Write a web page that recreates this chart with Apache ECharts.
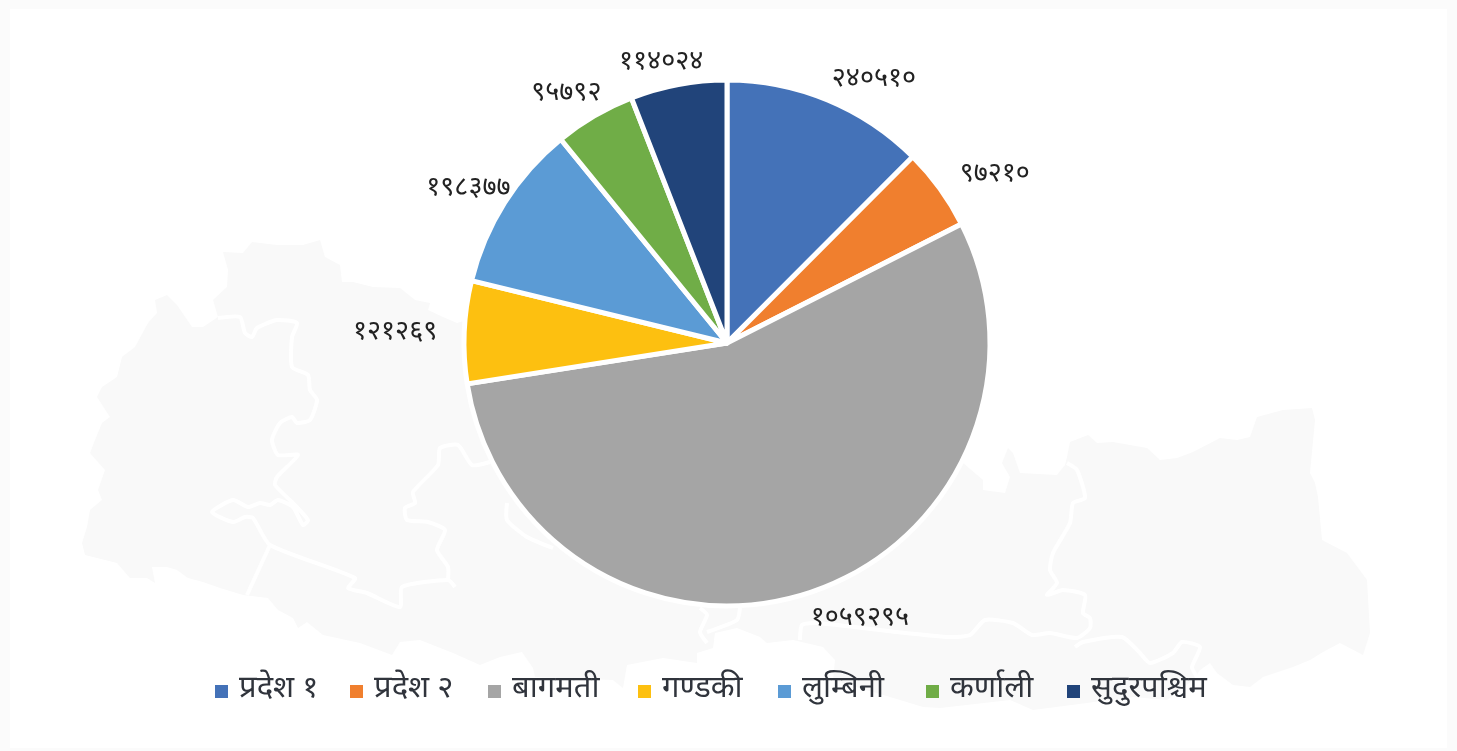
<!DOCTYPE html>
<html>
<head>
<meta charset="utf-8">
<title>प्रदेश</title>
<style>
  html, body { margin: 0; padding: 0; background: #fbfbfb; }
  #chart { width: 1457px; height: 751px; }
</style>
<script src="https://cdn.jsdelivr.net/npm/echarts@6/dist/echarts.min.js"></script>
</head>
<body>
<div id="chart"></div>
<script>
const provinces = ['प्रदेश १', 'प्रदेश २', 'बागमती', 'गण्डकी', 'लुम्बिनी', 'कर्णाली', 'सुदुरपश्चिम'];
const values = [240510, 97210, 1059295, 121269, 198377, 95792, 114024];
const colors = ['#4472b8', '#f07f2e', '#a5a5a5', '#fdc010', '#5b9bd5', '#70ad47', '#21447a'];
const nepaliDigits = ['०', '१', '२', '३', '४', '५', '६', '७', '८', '९'];

// nudges for the value labels, and where each legend entry starts
const labelNudge = [[-3, -13], [10, -9], [-4, 21], [-16, 2], [16, -9], [15, -16], [31, -15]];
const legendLeft = [215, 350, 488, 638, 778, 926, 1067];

// watermark map behind the pie, page pixels
const mapOutline = [
  [82,543],[87,527],[90,510],[102,500],[98,490],[105,470],[90,453],[95,440],[102,423],[110,417],[97,397],[102,387],
  [117,377],[122,357],[135,347],[148,323],[157,313],[155,300],[167,295],[177,305],[192,327],[203,327],[218,317],
  [213,300],[227,287],[228,270],[223,252],[243,253],[252,242],[277,245],[303,245],[320,240],[325,257],[340,265],
  [342,282],[353,282],[373,287],[400,288],[415,300],[430,303],[428,310],[443,317],[457,323],[467,320],
  [963,463],[983,480],[983,490],[1005,493],[1010,477],[1002,463],[1008,448],[1013,453],[1020,473],[1057,475],
  [1065,465],[1067,457],[1070,442],[1088,435],[1097,443],[1113,442],[1147,448],[1160,460],[1177,458],[1193,452],
  [1220,438],[1237,440],[1250,437],[1257,417],[1283,410],[1312,408],[1315,420],[1310,473],[1315,483],[1318,497],
  [1322,540],[1347,553],[1367,580],[1370,633],[1363,655],[1340,643],[1323,652],[1310,660],[1293,667],[1263,677],
  [1250,687],[1233,685],[1217,673],[1210,663],[1200,670],[1193,680],[1167,700],[1133,697],[1033,710],[1010,700],
  [940,708],[923,707],[900,700],[833,680],[835,660],[823,647],[793,640],[767,643],[760,637],[737,628],[715,633],
  [713,648],[697,653],[697,663],[663,658],[627,665],[623,688],[613,680],[535,677],[533,668],[522,652],[500,657],
  [480,665],[453,653],[420,640],[400,642],[392,655],[360,643],[323,635],[307,622],[298,628],[293,618],[278,610],
  [268,598],[243,595],[220,588],[203,582],[188,578],[177,570],[167,567],[152,567],[155,583],[147,578],[130,578],
  [117,563],[97,558],[85,555]
];
const mapBorders = [
  [[218,318],[240,317],[245,333],[252,337],[257,328],[277,320],[297,323],[292,337],[292,367],[308,375],[310,390],
   [317,400],[310,420],[297,423],[292,417],[280,423],[272,440],[278,455],[298,455],[277,477],[275,485],[293,503],
   [308,520],[303,525],[293,507],[278,500],[270,505],[260,503],[248,507],[233,500],[212,512],[233,522],[245,517],
   [253,518],[270,545],[355,578],[348,588],[367,593],[400,607],[402,587],[448,580],[455,587]],
  [[448,580],[448,567],[437,550],[445,530],[428,522],[407,520],[405,508],[415,503],[413,492],[438,465],[440,448],
   [458,445],[472,465],[490,462]],
  [[270,545],[247,595]],
  [[507,503],[507,520],[527,537],[553,548]],
  [[700,608],[707,615],[700,632],[707,643]],
  [[740,608],[737,620],[707,632]],
  [[800,640],[802,625],[817,623],[897,632],[950,637],[970,635],[985,620],[1013,623],[1032,635],[1050,633],[1077,638],
   [1090,628],[1090,618],[1083,613],[1085,595],[1063,590],[1047,595],[1057,583],[1050,570],[1053,553],[1070,523],
   [1073,503],[1085,498],[1077,470],[1067,463]],
  [[1075,647],[1083,642],[1122,637],[1140,653],[1150,663],[1173,653],[1182,642],[1200,647],[1192,667],[1197,677]]
];

const toNepali = (n) => String(n).replace(/\d/g, (d) => nepaliDigits[d]);
const font = '"Noto Sans Devanagari", "Noto Sans", sans-serif';

const myChart = echarts.init(document.getElementById('chart'));
const option = {
  animation: false,
  color: colors,
  graphic: [
    { type: 'rect', z: -3, shape: { x: 10, y: 9, width: 1437, height: 739 }, style: { fill: '#ffffff' }, silent: true },
    { type: 'polygon', z: -2, shape: { points: mapOutline }, style: { fill: '#f9f9f9' }, silent: true }
  ].concat(mapBorders.map((points) => ({
    type: 'polyline', z: -1, shape: { points, smooth: 0.2 }, style: { stroke: '#ffffff', lineWidth: 4, fill: null }, silent: true
  }))),
  // one legend per entry, the gaps in the picture are not even
  legend: provinces.map((name, i) => ({
    left: legendLeft[i],
    top: 676,
    padding: 0,
    icon: 'rect',
    itemWidth: 13,
    itemHeight: 13,
    itemStyle: { borderWidth: 0 },
    textStyle: { color: '#30343c', fontSize: 31, fontFamily: font, padding: [3, 0, 0, 6] },
    data: [name]
  })),
  series: [
    {
      type: 'pie',
      center: [727, 343],
      radius: [0, 263],
      startAngle: 90,
      avoidLabelOverlap: false,
      itemStyle: { borderColor: '#ffffff', borderWidth: 5 },
      label: {
        position: 'outside',
        color: '#222222',
        fontSize: 27,
        fontFamily: font,
        formatter: (p) => toNepali(p.value)
      },
      labelLine: { show: false, length: 6, length2: 0 },
      labelLayout: (p) => ({ dx: labelNudge[p.dataIndex][0], dy: labelNudge[p.dataIndex][1] }),
      data: provinces.map((name, i) => ({ name, value: values[i] }))
    }
  ]
};
myChart.setOption(option);
</script>
</body>
</html>
